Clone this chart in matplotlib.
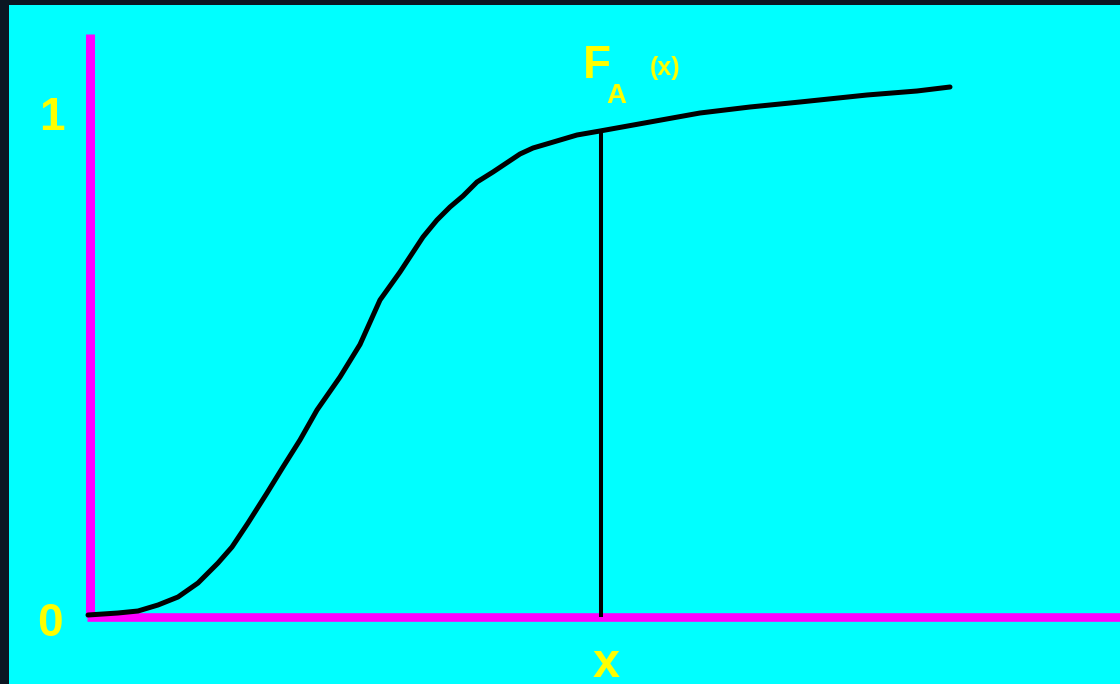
import matplotlib
matplotlib.use("Agg")
import matplotlib.pyplot as plt

# Curve data (x in arbitrary units, y = cumulative probability)
curve_x = [-0.02, 0.28, 0.48, 0.68, 0.88, 1.08, 1.28, 1.42, 1.58, 1.77,
           1.93, 2.10, 2.27, 2.50, 2.70, 2.90, 3.10, 3.33, 3.47, 3.60,
           3.73, 3.87, 4.03, 4.30, 4.43, 4.60, 4.87, 5.10, 6.10, 6.60,
           7.10, 7.77, 8.27, 8.60]
curve_y = [0.004, 0.008, 0.012, 0.024, 0.040, 0.068, 0.108, 0.140, 0.188,
           0.248, 0.300, 0.354, 0.414, 0.480, 0.545, 0.634, 0.690, 0.760,
           0.794, 0.820, 0.842, 0.870, 0.890, 0.926, 0.938, 0.948, 0.964,
           0.972, 1.008, 1.020, 1.030, 1.044, 1.052, 1.060]
x_mark = 5.11
y_mark = 0.972
tick_labels = ["0", "1"]
tick_values = [0, 1]

BG = "#0b1622"
CYAN = "#00ffff"
MAGENTA = "#ff00ff"
YELLOW = "#ffff00"

W, H = 1120, 684
fig = plt.figure(figsize=(W / 100, H / 100), dpi=100, facecolor=BG)
ax = fig.add_axes([9 / W, 0, (W - 9) / W, (H - 5) / H])
ax.set_facecolor(CYAN)
ax.set_xlim(-0.81, 10.30)
ax.set_ylim(-0.134, 1.224)
for s in ax.spines.values():
    s.set_visible(False)
ax.set_xticks([])
ax.set_yticks([])

# magenta axes
ax.plot([0, 0], [0, 1.166], color=MAGENTA, lw=6.5, solid_capstyle="butt")
ax.plot([-0.03, 10.30], [0, 0], color=MAGENTA, lw=6.2, solid_capstyle="butt")

# curve and vertical marker
ax.plot(curve_x, curve_y, color="black", lw=3.6, solid_capstyle="round",
        solid_joinstyle="round")
ax.plot([x_mark, x_mark], [0, y_mark], color="black", lw=2.9,
        solid_capstyle="butt")

font = "Liberation Sans"
# axis labels
ax.text(-0.38, 0.974, tick_labels[1], color=YELLOW, fontsize=33,
        fontweight="bold", family=font, ha="center", va="baseline")
ax.text(-0.40, -0.038, tick_labels[0], color=YELLOW, fontsize=33,
        fontweight="bold", family=font, ha="center", va="baseline")
ax.text(5.16, -0.120, "x", color=YELLOW, fontsize=35,
        fontweight="bold", family=font, ha="center", va="baseline")

# F_A (x)
ax.text(5.07, 1.078, "F", color=YELLOW, fontsize=33,
        fontweight="bold", family=font, ha="center", va="baseline")
ax.text(5.26, 1.028, "A", color=YELLOW, fontsize=20,
        fontweight="bold", family=font, ha="center", va="baseline")
ax.text(5.75, 1.084, "(x)", color=YELLOW, fontsize=18,
        fontweight="bold", family=font, ha="center", va="baseline")

fig.savefig("out.png", dpi=100, facecolor=BG)
